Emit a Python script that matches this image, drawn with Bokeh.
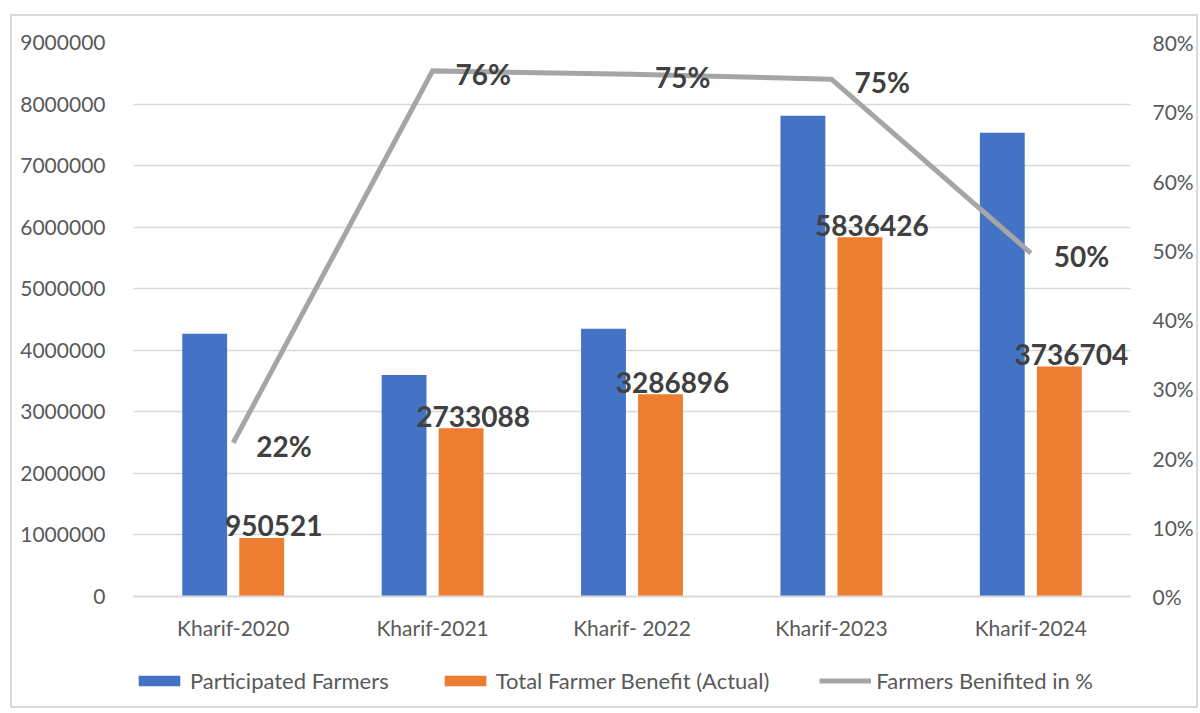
from bokeh.plotting import figure
from bokeh.layouts import column
from bokeh.models import (ColumnDataSource, FactorRange, Range1d, LinearAxis, SingleIntervalTicker,
                          NumeralTickFormatter, Legend, LegendItem)
from bokeh.transform import dodge
from bokeh.core.properties import value
from bokeh.embed import file_html
from bokeh.resources import INLINE

categories = ["Kharif-2020", "Kharif-2021", "Kharif- 2022", "Kharif-2023", "Kharif-2024"]
participated = [4270000, 3600000, 4350000, 7810000, 7535000]
benefit = [950521, 2733088, 3286896, 5836426, 3736704]
benefit_pct = [0.222, 0.759, 0.754, 0.747, 0.496]
series_names = ["Participated Farmers", "Total Farmer Benefit (Actual)", "Farmers Benifited in %"]

FONT = "Lato"
BLUE = "#4472C4"
ORANGE = "#ED7D31"
GRAY = "#A5A5A5"
TXT = "#595959"
GRID = "#D9D9D9"

src = ColumnDataSource(dict(
    cat=categories,
    part=participated,
    ben=benefit,
    ben_lbl=[str(v) for v in benefit],
    pct=benefit_pct,
    pct_lbl=[f"{round(v * 100)}%" for v in benefit_pct],
))

W = 121 + 997 + 62

p = figure(x_range=FactorRange(*categories), y_range=Range1d(0, 9000000),
           frame_width=997, frame_height=554, output_backend="svg", toolbar_location=None,
           min_border_left=121, min_border_right=62, min_border_top=26, min_border_bottom=50)
p.outline_line_color = None
p.background_fill_color = "white"
p.border_fill_color = "white"

p.extra_y_ranges = {"pct": Range1d(0, 0.8)}

p.vbar(x=dodge("cat", -0.143, range=p.x_range), top="part", width=0.225,
       source=src, color=BLUE, line_color=None)
p.vbar(x=dodge("cat", 0.143, range=p.x_range), top="ben", width=0.225,
       source=src, color=ORANGE, line_color=None)
p.line(x="cat", y="pct", source=src, y_range_name="pct",
       line_color=GRAY, line_width=5, line_join="miter")

p.text(x=dodge("cat", 0.143, range=p.x_range), y="ben", text="ben_lbl", source=src,
       text_font=value(FONT), text_font_style="bold", text_font_size="28px",
       text_color="#404040", text_align="center", text_baseline="middle",
       x_offset=12, y_offset=-12)
p.text(x="cat", y="pct", text="pct_lbl", source=src, y_range_name="pct",
       text_font=value(FONT), text_font_style="bold", text_font_size="28px",
       text_color="#404040", text_align="left", text_baseline="middle",
       x_offset=23, y_offset=3)

# left axis
ax = p.yaxis[0]
ax.ticker = SingleIntervalTicker(interval=1000000)
ax.formatter = NumeralTickFormatter(format="0")
ax.axis_line_color = None
ax.major_tick_line_color = None
ax.minor_tick_line_color = None
ax.major_label_text_font = FONT
ax.major_label_text_font_size = "21px"
ax.major_label_text_color = TXT
ax.major_label_standoff = 22

# right axis
ra = LinearAxis(y_range_name="pct", ticker=SingleIntervalTicker(interval=0.1),
                formatter=NumeralTickFormatter(format="0%"))
ra.axis_line_color = None
ra.major_tick_line_color = None
ra.minor_tick_line_color = None
ra.major_label_text_font = FONT
ra.major_label_text_font_size = "21px"
ra.major_label_text_color = TXT
ra.major_label_standoff = 16
p.add_layout(ra, "right")

# x axis
xa = p.xaxis[0]
xa.axis_line_color = GRID
xa.axis_line_width = 2
xa.major_tick_line_color = None
xa.minor_tick_line_color = None
xa.major_label_text_font = FONT
xa.major_label_text_font_size = "21px"
xa.major_label_text_color = TXT
xa.major_label_standoff = 12

p.xgrid.grid_line_color = None
p.ygrid.grid_line_color = GRID
p.ygrid.grid_line_width = 1.5

# legend strip (own small figure below the chart)
leg = figure(width=W, height=60, x_range=Range1d(0, 1), y_range=Range1d(0, 1),
             output_backend="svg", toolbar_location=None,
             x_axis_type=None, y_axis_type=None,
             min_border_left=121, min_border_right=62, min_border_top=0, min_border_bottom=0)
leg.outline_line_color = None
leg.xgrid.visible = False
leg.ygrid.visible = False
nan = float("nan")
hidden = ColumnDataSource(dict(x=[nan], y=[nan]))
lr1 = leg.vbar(x="x", top="y", width=0.1, source=hidden, color=BLUE, line_color=None)
lr2 = leg.vbar(x="x", top="y", width=0.1, source=hidden, color=ORANGE, line_color=None)
lr3 = leg.line(x="x", y="y", source=hidden, line_color=GRAY, line_width=5)

legend = Legend(items=[
    LegendItem(label=series_names[0], renderers=[lr1]),
    LegendItem(label=series_names[1], renderers=[lr2]),
    LegendItem(label=series_names[2], renderers=[lr3]),
], orientation="horizontal", location=(0, 12))
legend.glyph_width = 52
legend.glyph_height = 13
legend.label_text_font = FONT
legend.label_text_font_size = "22px"
legend.label_text_color = TXT
legend.label_standoff = 5
legend.spacing = 50
legend.border_line_color = None
legend.background_fill_alpha = 0
legend.margin = 0
legend.padding = 0
leg.add_layout(legend, "center")

layout = column(p, leg, spacing=0)
layout.margin = (14, 0, 0, 10)
layout.styles = {"border": "2px solid #D9D9D9", "background": "white"}

open("out.html", "w").write(file_html(layout, INLINE))
